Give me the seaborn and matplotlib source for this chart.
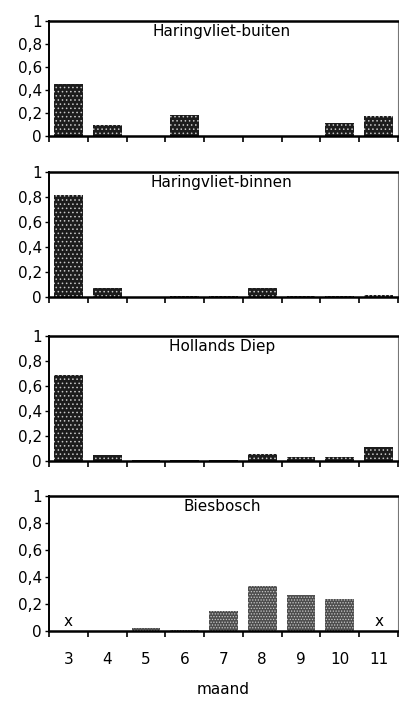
import matplotlib
matplotlib.use("Agg")
import matplotlib.pyplot as plt
from matplotlib.ticker import FixedLocator
import seaborn as sns
import pandas as pd

sns.set_style("white")
plt.rcParams["font.family"] = ["DejaVu Sans"]
plt.rcParams["hatch.linewidth"] = 0.6
for key in ["text.color", "axes.labelcolor", "xtick.color", "ytick.color"]:
    plt.rcParams[key] = "black"

months = [3, 4, 5, 6, 7, 8, 9, 10, 11]
month_labels = ["3", "4", "5", "6", "7", "8", "9", "10", "11"]

haringvliet_buiten = [0.45, 0.10, 0.0, 0.18, 0.0, 0.0, 0.0, 0.11, 0.17]
haringvliet_binnen = [0.82, 0.07, 0.003, 0.01, 0.01, 0.07, 0.01, 0.01, 0.015]
hollands_diep = [0.69, 0.05, 0.01, 0.01, 0.01, 0.06, 0.03, 0.03, 0.11]
biesbosch = [0.0, 0.0, 0.025, 0.01, 0.15, 0.33, 0.27, 0.24, 0.0]
biesbosch_missing = [3, 11]

panel_names = ["Haringvliet-buiten", "Haringvliet-binnen", "Hollands Diep", "Biesbosch"]
panel_values = [haringvliet_buiten, haringvliet_binnen, hollands_diep, biesbosch]

y_ticks = [0, 0.2, 0.4, 0.6, 0.8, 1]
y_tick_labels = ["0", "0,2", "0,4", "0,6", "0,8", "1"]

W, H = 399, 702
fig = plt.figure(figsize=(W / 100, H / 100), dpi=100)

# pixel extents (top, bottom) of each panel's plotting area
panel_rows = [(21, 136), (172, 297), (336, 461), (496, 631)]
left_px, right_px = 49, 398

for i, (name, vals, (top, bot)) in enumerate(zip(panel_names, panel_values, panel_rows)):
    ax = fig.add_axes([left_px / W, 1 - bot / H, (right_px - left_px) / W, (bot - top) / H])
    df = pd.DataFrame({"maand": month_labels, "waarde": vals})
    last = i == len(panel_names) - 1
    face = "#4d4d4d" if last else "#1c1c1c"
    sns.barplot(data=df, x="maand", y="waarde", order=month_labels, color=face,
                width=0.74, saturation=1, ax=ax)
    for p in ax.patches:
        p.set_facecolor(face)
        p.set_hatch("......" if last else "....")
        p.set_edgecolor("#c8c8c8")
        p.set_linewidth(0)

    ax.set_xlim(-0.5, len(months) - 0.5)
    ax.set_ylim(0, 1)
    ax.set_yticks(y_ticks)
    ax.set_yticklabels(y_tick_labels, fontsize=11)
    ax.tick_params(axis="y", direction="out", length=3, width=1, pad=2, left=True, colors="black")

    ax.xaxis.set_minor_locator(FixedLocator([k - 0.5 for k in range(len(months) + 1)]))
    ax.tick_params(axis="x", which="minor", direction="out", length=4, width=1.2, bottom=True)
    ax.tick_params(axis="x", which="major", length=0, pad=15)
    if last:
        ax.set_xticks(range(len(months)))
        ax.set_xticklabels(month_labels, fontsize=11)
        ax.set_xlabel("maand", fontsize=11, labelpad=11)
        for m in biesbosch_missing:
            ax.text(months.index(m), 0.07, "x", ha="center", va="center", fontsize=11)
    else:
        ax.set_xticks([])
        ax.set_xlabel("")
    ax.set_ylabel("")

    for side in ["top", "bottom"]:
        ax.spines[side].set_linewidth(1.8)
        ax.spines[side].set_color("black")
    ax.spines["left"].set_linewidth(1.4)
    ax.spines["left"].set_color("black")
    ax.spines["right"].set_linewidth(0.8)
    ax.spines["right"].set_color("#777777")

    ax.text(0.495, 0.975, name, transform=ax.transAxes, ha="center", va="top", fontsize=11)

fig.savefig("out.png", dpi=100)
